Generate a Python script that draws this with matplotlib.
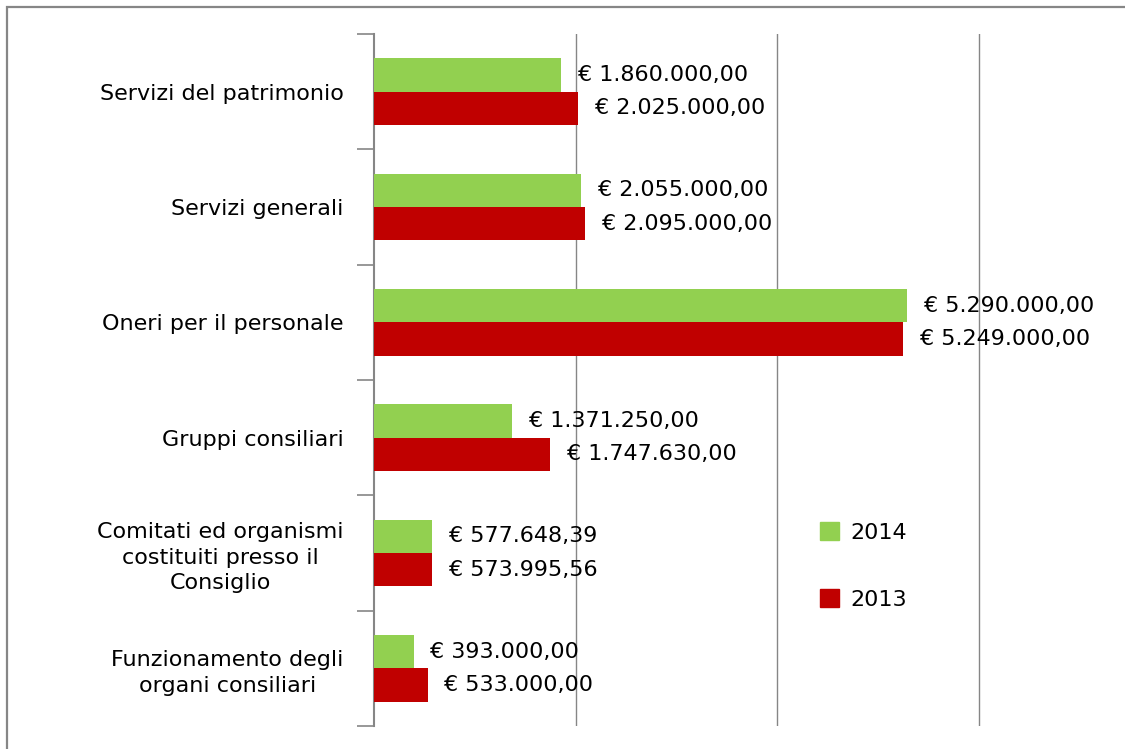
import matplotlib.pyplot as plt
from matplotlib.patches import Rectangle, Patch

categories = [
    "Servizi del patrimonio",
    "Servizi generali",
    "Oneri per il personale",
    "Gruppi consiliari",
    "Comitati ed organismi\ncostituiti presso il\nConsiglio",
    "Funzionamento degli\norgani consiliari",
]
spesa_2014 = [1860000.00, 2055000.00, 5290000.00, 1371250.00, 577648.39, 393000.00]
spesa_2013 = [2025000.00, 2095000.00, 5249000.00, 1747630.00, 573995.56, 533000.00]

GREEN = "#92D050"
RED = "#C00000"
GRAY = "#868686"
FS = 16


def euro(v):
    # formato italiano: punto per le migliaia, virgola per i decimali
    s = f"{v:,.2f}".replace(",", "X").replace(".", ",").replace("X", ".")
    return "€ " + s


W, H = 1125, 749
fig = plt.figure(figsize=(W / 100, H / 100), dpi=100)

# cornice esterna del grafico
fig.patches.append(Rectangle((6.5 / W, -0.1), 1.2, 1.1 - 6.5 / H, transform=fig.transFigure,
                             fill=False, edgecolor=GRAY, linewidth=1.6))

ax = fig.add_axes([374 / W, 23 / H, 1 - 374 / W, 692 / H])

h = 0.29
y = list(range(len(categories)))
y14 = [i - h / 2 for i in y]
y13 = [i + h / 2 for i in y]
b14 = ax.barh(y14, spesa_2014, height=h, color=GREEN, label="2014", zorder=3)
b13 = ax.barh(y13, spesa_2013, height=h, color=RED, label="2013", zorder=3)

for bars, vals in ((b14, spesa_2014), (b13, spesa_2013)):
    for bar, v in zip(bars, vals):
        ax.annotate(euro(v), (v, bar.get_y() + bar.get_height() / 2),
                    xytext=(12, 0), textcoords="offset points",
                    ha="left", va="center", fontsize=FS, color="black")

ax.set_xlim(0, 7.45e6)
ax.set_ylim(len(categories) - 0.5, -0.5)

ax.set_xticks([2e6, 4e6, 6e6])
ax.tick_params(axis="x", length=0, labelbottom=False)
ax.grid(axis="x", color=GRAY, linewidth=1.0, zorder=0)

ax.set_yticks(y)
ax.set_yticklabels(categories, fontsize=FS, multialignment="center", linespacing=1.35)
ax.set_yticks([i - 0.5 for i in range(len(categories) + 1)], minor=True)
ax.tick_params(axis="y", which="major", length=0, pad=22)
ax.tick_params(axis="y", which="minor", length=12, width=1.2, color=GRAY)

for side in ("top", "right", "bottom"):
    ax.spines[side].set_visible(False)
ax.spines["left"].set_color(GRAY)
ax.spines["left"].set_linewidth(1.5)

handles = [Patch(color=GREEN, label="2014"), Patch(color=RED, label="2013")]
ax.legend(handles=handles, loc="upper left", bbox_to_anchor=(800 / W, 1 - 502 / H),
          bbox_transform=fig.transFigure, frameon=False, fontsize=FS,
          handlelength=0.85, handleheight=0.85, handletextpad=0.5, labelspacing=2.1)

fig.savefig("out.png", dpi=100)
